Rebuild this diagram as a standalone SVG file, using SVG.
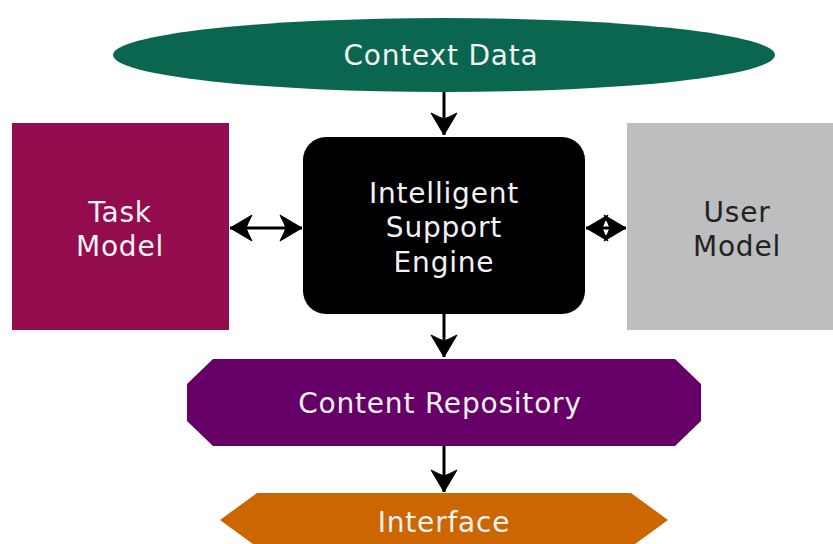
<svg xmlns="http://www.w3.org/2000/svg" width="833" height="544" viewBox="0 0 833 544">
<defs>
<style>
.t{font-family:"DejaVu Sans","Verdana",sans-serif;font-size:28px;letter-spacing:0.8px;text-anchor:middle;fill:#f2f2f2}
.dk{fill:#222}
.c{stroke:#000;stroke-width:3;fill:none}
</style>
<marker id="ah" viewBox="-24 -14 25 28" refX="0" refY="0" markerWidth="25" markerHeight="28" markerUnits="userSpaceOnUse" orient="auto-start-reverse">
<path d="M0,0 L-22,-13 Q-18,-5 -16,0 Q-18,5 -22,13 Z" fill="#000" stroke="#000" stroke-width="1" stroke-linejoin="round"/>
</marker>
</defs>
<rect width="833" height="544" fill="#fff"/>
<g id="context-data">
<ellipse cx="444" cy="55" rx="331" ry="37" fill="#0B6650"/>
<text class="t" x="441" y="65">Context Data</text>
</g>
<g id="task-model">
<rect x="12" y="123" width="217" height="207" fill="#930C4E"/>
<text class="t" x="120" y="222">Task</text>
<text class="t" x="120" y="256">Model</text>
</g>
<g id="user-model">
<rect x="627" y="123" width="206" height="207" fill="#BDBEC0"/>
<text class="t dk" x="737" y="222">User</text>
<text class="t dk" x="737" y="256">Model</text>
</g>
<g id="intelligent-support-engine">
<rect x="303" y="137" width="282" height="177" rx="23" ry="23" fill="#000"/>
<text class="t" x="444" y="203">Intelligent</text>
<text class="t" x="444" y="237">Support</text>
<text class="t" x="444" y="272">Engine</text>
</g>
<g id="content-repository">
<polygon points="213,359 675,359 701,384 701,421 675,446 213,446 187,421 187,384" fill="#660066"/>
<text class="t" x="440" y="413">Content Repository</text>
</g>
<g id="interface">
<polygon points="257,493 631,493 668,520 631,547 257,547 220,520" fill="#CC6600"/>
<text class="t" x="444" y="532">Interface</text>
</g>
<g id="connectors">
<line class="c" x1="444" y1="92" x2="444" y2="135" marker-end="url(#ah)"/>
<line class="c" x1="230" y1="228" x2="302" y2="228" marker-start="url(#ah)" marker-end="url(#ah)"/>
<line class="c" x1="586" y1="228" x2="626" y2="228" marker-start="url(#ah)" marker-end="url(#ah)"/>
<line class="c" x1="444" y1="314" x2="444" y2="357" marker-end="url(#ah)"/>
<line class="c" x1="444" y1="446" x2="444" y2="492" marker-end="url(#ah)"/>
</g>
</svg>
